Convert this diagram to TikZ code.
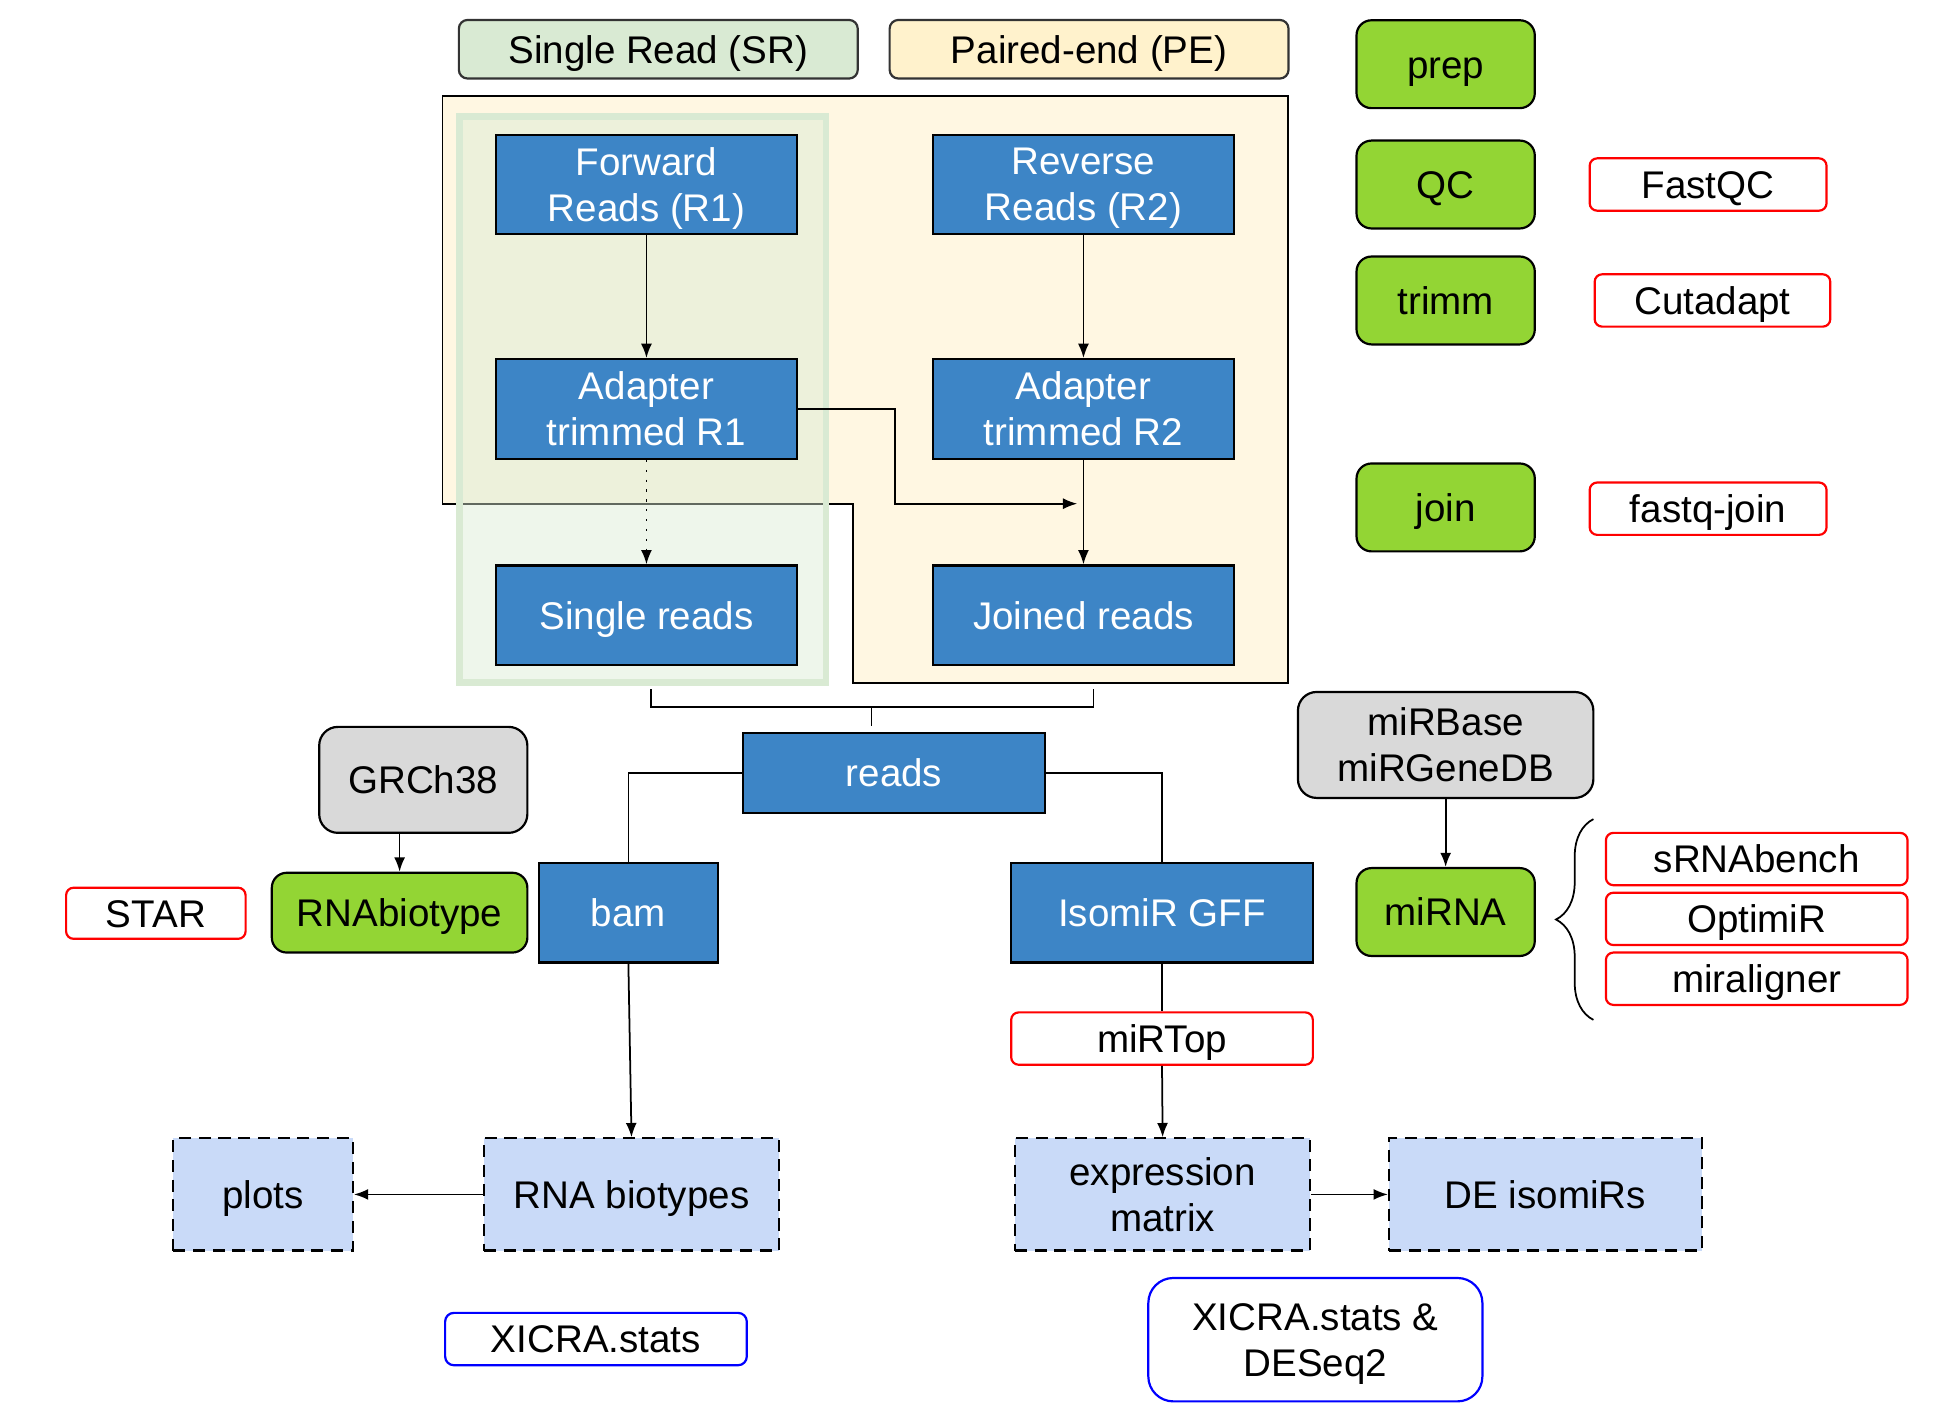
\documentclass[tikz,border=0pt]{standalone}
\usepackage{fontspec}
\setmainfont{Liberation Sans}
\usetikzlibrary{arrows.meta,decorations.pathreplacing}

\definecolor{procblue}{RGB}{61,133,198}
\definecolor{outblue}{RGB}{201,218,248}
\definecolor{stepgreen}{RGB}{147,213,52}
\definecolor{refgray}{RGB}{217,217,217}
\definecolor{srgreen}{RGB}{217,234,211}
\definecolor{pelabel}{RGB}{255,242,204}
\definecolor{pefill}{RGB}{255,247,226}

\tikzset{
    base/.style={font=\fontsize{17.6}{21}\selectfont, align=center, inner sep=0pt, line width=1pt, text height=12.6pt, text depth=0pt},
    twolines/.style={text height={}},
    filebox/.style={base, draw=black, fill=procblue, text=white, minimum width=4.84cm, minimum height=1.6cm},
    resultbox/.style={base, draw=black, dash pattern=on 5.5pt off 3.5pt, fill=outblue, minimum width=4.74cm, minimum height=1.8cm},
    modbox/.style={base, draw=black, fill=stepgreen, rounded corners=0.24cm, minimum width=2.86cm, minimum height=1.41cm},
    dbbox/.style={base, draw=black, fill=refgray, rounded corners=0.3cm, minimum height=1.7cm},
    toolbox/.style={base, draw=red, fill=white, rounded corners=0.12cm, minimum width=4.84cm, minimum height=0.84cm},
    statbox/.style={base, draw=blue, fill=white, rounded corners=0.14cm, minimum width=4.84cm, minimum height=0.84cm},
    labbox/.style={base, draw=black!80, rounded corners=0.14cm, minimum width=6.4cm, minimum height=0.94cm},
    arr/.style={-{Latex[length=6.5pt,width=5pt]}, line width=0.8pt},
    conn/.style={line width=0.8pt},
}

\begin{document}
\begin{tikzpicture}[x=0.02cm, y=-0.02cm]
    \useasboundingbox (0,0) rectangle (1560,1141);

    % read type labels
    \node[labbox, fill=srgreen] (srlab) at (528,39.5) {Single Read (SR)};
    \node[labbox, fill=pelabel] (pelab) at (873.5,39.5) {Paired-end (PE)};

    % PE and SR areas
    \draw[fill=pefill, line width=0.8pt] (355,77) -- (1033,77) -- (1033,548) -- (684,548) -- (684,404) -- (355,404) -- cycle;
    \draw[draw=srgreen, line width=0.1cm, fill=srgreen, fill opacity=0.45] (368.5,93.5) rectangle (662.5,547.5);

    % reads
    \node[filebox, twolines] (fwd) at (518.5,148) {Forward\\Reads (R1)};
    \node[filebox, twolines] (rev) at (869,148) {Reverse\\Reads (R2)};
    \node[filebox, twolines] (trimA) at (518.5,328) {Adapter\\trimmed R1};
    \node[filebox, twolines] (trimB) at (869,328) {Adapter\\trimmed R2};
    \node[filebox] (single) at (518.5,493.5) {Single reads};
    \node[filebox] (joined) at (869,493.5) {Joined reads};
    \node[filebox, minimum height=1.28cm] (reads) at (717,620) {reads};
    \node[filebox, minimum width=2.88cm] (bam) at (504,732) {bam};
    \node[filebox] (gff) at (932,732) {IsomiR GFF};

    % results
    \node[resultbox, minimum width=2.88cm] (plots) at (211,958) {plots};
    \node[resultbox] (biotypes) at (506.5,958) {RNA biotypes};
    \node[resultbox, twolines] (matrix) at (932.5,958) {expression\\matrix};
    \node[resultbox, minimum width=5.02cm] (deiso) at (1239.5,958) {DE isomiRs};

    % modules
    \node[modbox] (prep) at (1159.5,51.5) {prep};
    \node[modbox] (qc) at (1159.5,148) {QC};
    \node[modbox] (trimm) at (1159.5,241) {trimm};
    \node[modbox] (join) at (1159.5,407) {join};
    \node[modbox, minimum width=4.1cm, minimum height=1.28cm] (rnabio) at (320.5,732) {RNAbiotype};
    \node[modbox] (mirna) at (1159.5,731.5) {miRNA};

    % references
    \node[dbbox, minimum width=3.34cm] (grch) at (339.5,625.5) {GRCh38};
    \node[dbbox, twolines, minimum width=4.74cm] (mirbase) at (1159.5,597.5) {miRBase\\miRGeneDB};

    % tools
    \node[toolbox, minimum width=3.8cm] (fastqc) at (1370,148) {FastQC};
    \node[toolbox, minimum width=3.78cm] (cutadapt) at (1373.5,241) {Cutadapt};
    \node[toolbox, minimum width=3.8cm] (fqjoin) at (1370,408) {fastq-join};
    \node[toolbox, minimum width=2.88cm, minimum height=0.82cm] (star) at (125,732.5) {STAR};
    \node[toolbox] (srnabench) at (1409,689) {sRNAbench};
    \node[toolbox] (optimir) at (1409,737) {OptimiR};
    \node[toolbox] (miraligner) at (1409,785) {miraligner};
    \node[toolbox] (mirtop) at (932,833) {miRTop};

    % stats
    \node[statbox] (xstats) at (478,1074) {XICRA.stats};
    \node[statbox, twolines, minimum width=5.36cm, minimum height=1.98cm, rounded corners=0.4cm] (xdeseq) at (1055,1074.5) {XICRA.stats \&\\DESeq2};

    % connectors
    \draw[arr] (fwd) -- (trimA);
    \draw[arr] (rev) -- (trimB);
    \draw[arr, dash pattern=on 1pt off 3.5pt] (trimA) -- (single);
    \draw[arr] (trimB) -- (joined);
    \coordinate (bend) at (718,404);
    \coordinate (mergept) at (864,404);
    \draw[arr] (trimA.east) -| (bend) -- (mergept);

    \coordinate (brL) at (522,553);
    \coordinate (brR) at (877,553);
    \coordinate (brM) at (699,567);
    \coordinate (brS) at (699,582);
    \draw[conn] (brL) |- (brM) -| (brR);
    \draw[conn] (brM) -- (brS);

    \draw[conn] (reads.west) -| (bam.north);
    \draw[conn] (reads.east) -| (gff.north);
    \draw[arr] (bam.south) -- (biotypes.north);
    \draw[arr] (biotypes.west) -- (plots.east);
    \draw[conn] (gff.south) -- (mirtop.north);
    \draw[arr] (mirtop.south) -- (matrix.north);
    \draw[arr] (matrix.east) -- (deiso.west);
    \draw[arr] (grch.south -| rnabio.north) -- (rnabio.north);
    \draw[arr] (mirbase.south) -- (mirna.north);

    % brace for miRNA tools
    \coordinate (braceB) at (1278,818);
    \coordinate (braceT) at (1278,657);
    \draw[conn, decorate, decoration={brace, amplitude=0.6cm}] (braceB) -- (braceT);
\end{tikzpicture}
\end{document}
